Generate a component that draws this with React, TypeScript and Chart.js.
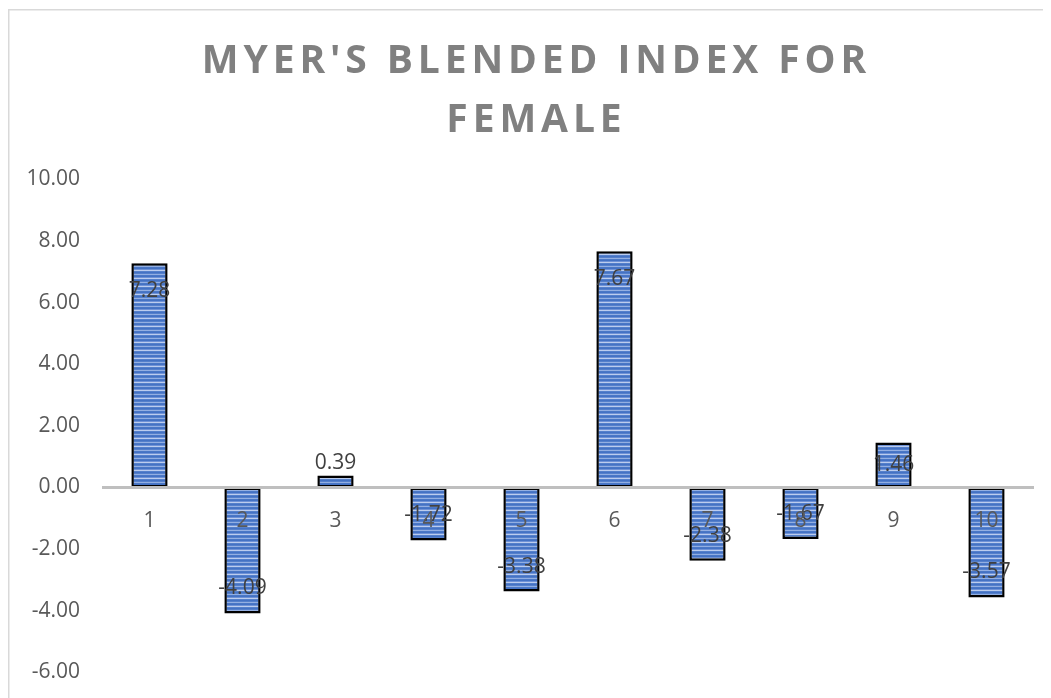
import React, { useEffect, useRef } from "react";
import { Chart, registerables } from "chart.js";

Chart.register(...registerables);

const categories = ["1", "2", "3", "4", "5", "6", "7", "8", "9", "10"];
const values = [7.28, -4.09, 0.39, -1.72, -3.38, 7.67, -2.38, -1.67, 1.46, -3.57];
const titleLines = ["MYER'S BLENDED INDEX FOR", "FEMALE"];
const yMin = -6;
const yMax = 10;
const yStep = 2;

const FONT = "'Open Sans', 'DejaVu Sans', sans-serif";

function makePattern(): CanvasPattern | string {
  const c = document.createElement("canvas");
  c.width = 8;
  c.height = 8;
  const g = c.getContext("2d");
  if (!g) return "#6f90d4";
  const rows = ["#4472c4", "#5580cb", "#93afe2", "#4a77c6", "#4472c4", "#6f92d6", "#bccdee", "#5580cb"];
  rows.forEach((col, i) => {
    g.fillStyle = col;
    g.fillRect(0, i, 8, 1);
  });
  const p = g.createPattern(c, "repeat");
  return p || "#6f90d4";
}

export default function App() {
  const ref = useRef<HTMLCanvasElement | null>(null);

  useEffect(() => {
    if (!ref.current) return;
    const pattern = makePattern();

    const framePlugin = {
      id: "frame",
      beforeDraw(chart: any) {
        const ctx = chart.ctx;
        ctx.save();
        ctx.fillStyle = "#d9d9d9";
        ctx.fillRect(0, 1, chart.width, 1.5);
        ctx.fillRect(0, 1, 1.5, chart.height);
        ctx.restore();
      },
    };

    const titlePlugin = {
      id: "spacedTitle",
      afterDraw(chart: any) {
        const ctx = chart.ctx;
        ctx.save();
        ctx.fillStyle = "#808080";
        ctx.font = `bold 39px ${FONT}`;
        const spacing = 4.9;
        (ctx as any).letterSpacing = `${spacing}px`;
        ctx.textAlign = "left";
        ctx.textBaseline = "alphabetic";
        const cx = 526;
        const baselines = [65, 124];
        titleLines.forEach((line, i) => {
          const w = ctx.measureText(line).width - spacing;
          ctx.fillText(line, cx - w / 2, baselines[i]);
        });
        ctx.restore();
      },
    };

    const labelPlugin = {
      id: "valueLabels",
      afterDatasetsDraw(chart: any) {
        const ctx = chart.ctx;
        const meta = chart.getDatasetMeta(0);
        ctx.save();
        ctx.font = `21px ${FONT}`;
        ctx.fillStyle = "#404040";
        ctx.textAlign = "center";
        ctx.textBaseline = "middle";
        meta.data.forEach((bar: any, i: number) => {
          const v = values[i];
          const h = Math.abs(bar.base - bar.y);
          let y: number;
          if (v >= 0) {
            y = h < 25 ? bar.y - 12.5 : bar.y + Math.min(28, h / 2);
          } else {
            y = h < 25 ? bar.y + 12.5 : bar.y - Math.min(25, h / 2);
          }
          ctx.fillText(v.toFixed(2), bar.x, y);
        });
        ctx.restore();
      },
    };

    const chart = new Chart(ref.current, {
      type: "bar",
      data: {
        labels: categories,
        datasets: [
          {
            data: values,
            backgroundColor: pattern as any,
            borderColor: "#000000",
            borderWidth: 2.5,
            borderSkipped: false,
            categoryPercentage: 1,
            barPercentage: 0.39,
          },
        ],
      },
      options: {
        responsive: false,
        animation: false,
        layout: { padding: { left: 0, right: 18, top: 171.5, bottom: 25.7 } },
        plugins: {
          legend: { display: false },
          title: { display: false },
          tooltip: { enabled: false },
        },
        scales: {
          x: {
            position: { y: 0 } as any,
            grid: { display: false, drawTicks: false },
            border: { display: true, color: "#bfbfbf", width: 3, z: 1 } as any,
            ticks: {
              color: "#595959",
              font: { family: FONT, size: 21 },
              padding: 20.5,
              maxRotation: 0,
              autoSkip: false,
              z: 2,
            },
          },
          y: {
            min: yMin,
            max: yMax,
            grid: { display: false, drawTicks: false },
            border: { display: false },
            afterFit(scale: any) {
              scale.width = 95;
              scale.paddingTop = 0;
              scale.paddingBottom = 0;
            },
            ticks: {
              stepSize: yStep,
              color: "#595959",
              font: { family: FONT, size: 21 },
              padding: 23,
              callback: (v: any) => Number(v).toFixed(2),
            },
          },
        },
      },
      plugins: [framePlugin, titlePlugin, labelPlugin],
    });

    return () => chart.destroy();
  }, []);

  return (
    <div style={{ width: 1043, height: 690 }}>
      <canvas ref={ref} width={1043} height={690} />
    </div>
  );
}
